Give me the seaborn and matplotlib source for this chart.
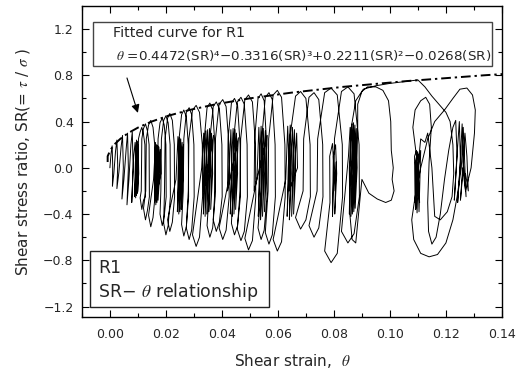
import pandas as pd
import matplotlib
matplotlib.use("Agg")
import matplotlib.pyplot as plt
from matplotlib.patches import Rectangle
import seaborn as sns

# ---- values: shear strain (theta) and stress ratio (SR) ----
# initial narrow spikes
strain_a = [0.0000, 0.0004, 0.0008, 0.0010, 0.0009, 0.0014, 0.0020, 0.0025, 0.0028, 0.0025,
            0.0032, 0.0040, 0.0045, 0.0048, 0.0043, 0.0050, 0.0058, 0.0063, 0.0066, 0.0061,
            0.0068, 0.0075, 0.0080, 0.0083, 0.0078]
sr_a = [0.00, 0.12, 0.19, 0.02, -0.16, -0.05, 0.14, 0.24, 0.02, -0.18,
        -0.04, 0.18, 0.28, 0.00, -0.27, -0.10, 0.16, 0.30, 0.00, -0.32,
        -0.10, 0.20, 0.31, 0.00, -0.30]
# dense cluster near 0.009
strain_b = [0.0085, 0.0090, 0.0093, 0.0088, 0.0091, 0.0095, 0.0098, 0.0092, 0.0094, 0.0098,
            0.0100, 0.0095, 0.0097, 0.0101, 0.0103, 0.0098]
sr_b = [0.10, 0.22, 0.00, -0.25, 0.05, 0.24, 0.00, -0.26, 0.05, 0.23,
        -0.02, -0.24, 0.06, 0.20, -0.05, -0.22]
# large cycles 0.010 - 0.016
strain_c = [0.0100, 0.0102, 0.0108, 0.0114, 0.0120, 0.0125, 0.0126, 0.0120, 0.0114, 0.0108,
            0.0112, 0.0114, 0.0120, 0.0127, 0.0134, 0.0140, 0.0141, 0.0134, 0.0127, 0.0120,
            0.0128, 0.0130, 0.0138, 0.0146, 0.0154, 0.0160, 0.0161, 0.0154, 0.0146, 0.0138]
sr_c = [-0.20, 0.25, 0.31, 0.35, 0.29, 0.20, -0.25, -0.28, -0.36, -0.26,
        -0.20, 0.25, 0.34, 0.38, 0.32, 0.20, -0.25, -0.37, -0.45, -0.35,
        -0.20, 0.25, 0.37, 0.41, 0.35, 0.20, -0.25, -0.43, -0.51, -0.41]
# dense cluster near 0.017
strain_d = [0.0156, 0.0163, 0.0166, 0.0160, 0.0162, 0.0167, 0.0170, 0.0164, 0.0166, 0.0171,
            0.0174, 0.0168, 0.0170, 0.0175, 0.0178, 0.0172, 0.0175, 0.0180, 0.0182]
sr_d = [-0.10, 0.22, -0.05, -0.30, 0.00, 0.20, -0.05, -0.32, 0.02, 0.19,
        -0.08, -0.30, 0.00, 0.18, -0.05, -0.28, 0.02, 0.16, -0.05]
# large cycles 0.017 - 0.023
strain_e = [0.0170, 0.0172, 0.0179, 0.0187, 0.0194, 0.0200, 0.0201, 0.0194, 0.0187, 0.0179,
            0.0182, 0.0184, 0.0192, 0.0200, 0.0208, 0.0215, 0.0216, 0.0208, 0.0200, 0.0192,
            0.0195, 0.0197, 0.0206, 0.0214, 0.0223, 0.0230, 0.0231, 0.0223, 0.0214, 0.0206]
sr_e = [-0.20, 0.25, 0.39, 0.43, 0.37, 0.20, -0.25, -0.42, -0.50, -0.40,
        -0.20, 0.25, 0.41, 0.45, 0.39, 0.20, -0.25, -0.50, -0.58, -0.48,
        -0.20, 0.25, 0.43, 0.47, 0.41, 0.20, -0.25, -0.47, -0.55, -0.45]
# dense cluster near 0.025
strain_f = [0.0236, 0.0243, 0.0247, 0.0241, 0.0244, 0.0249, 0.0252, 0.0246, 0.0248, 0.0253,
            0.0256, 0.0250, 0.0253, 0.0258, 0.0261, 0.0255, 0.0258, 0.0263]
sr_f = [-0.10, 0.27, -0.05, -0.38, 0.00, 0.26, -0.05, -0.40, 0.02, 0.25,
        -0.08, -0.38, 0.00, 0.22, -0.05, -0.36, 0.00, 0.20]
# large cycles 0.024 - 0.033
strain_g = [0.0245, 0.0247, 0.0256, 0.0264, 0.0273, 0.0280, 0.0281, 0.0273, 0.0264, 0.0256,
            0.0262, 0.0264, 0.0273, 0.0283, 0.0292, 0.0300, 0.0301, 0.0292, 0.0283, 0.0273,
            0.0280, 0.0282, 0.0295, 0.0308, 0.0320, 0.0330, 0.0331, 0.0320, 0.0308, 0.0295]
sr_g = [-0.20, 0.25, 0.46, 0.50, 0.44, 0.20, -0.25, -0.51, -0.59, -0.49,
        -0.20, 0.25, 0.48, 0.52, 0.46, 0.20, -0.25, -0.54, -0.62, -0.52,
        -0.20, 0.25, 0.50, 0.54, 0.48, 0.20, -0.25, -0.60, -0.68, -0.58]
# dense cluster near 0.035
strain_h = [0.0328, 0.0335, 0.0340, 0.0334, 0.0337, 0.0343, 0.0347, 0.0340, 0.0343, 0.0349,
            0.0353, 0.0346, 0.0350, 0.0356, 0.0360, 0.0353, 0.0357, 0.0363, 0.0367, 0.0360,
            0.0364, 0.0370]
sr_h = [0.00, 0.30, -0.02, -0.40, 0.00, 0.32, -0.05, -0.42, 0.00, 0.33,
        -0.05, -0.40, 0.02, 0.34, -0.02, -0.38, 0.02, 0.30, -0.05, -0.36,
        0.00, 0.28]
# large cycles 0.034 - 0.043
strain_i = [0.0335, 0.0337, 0.0347, 0.0357, 0.0367, 0.0375, 0.0376, 0.0367, 0.0357, 0.0347,
            0.0355, 0.0357, 0.0369, 0.0380, 0.0391, 0.0400, 0.0401, 0.0391, 0.0380, 0.0369,
            0.0375, 0.0377, 0.0390, 0.0403, 0.0415, 0.0425, 0.0426, 0.0415, 0.0403, 0.0390]
sr_i = [-0.20, 0.25, 0.52, 0.56, 0.50, 0.20, -0.25, -0.52, -0.60, -0.50,
        -0.20, 0.25, 0.53, 0.57, 0.51, 0.20, -0.25, -0.47, -0.55, -0.45,
        -0.20, 0.25, 0.55, 0.59, 0.53, 0.20, -0.25, -0.54, -0.62, -0.52]
# dense cluster near 0.044
strain_j = [0.0425, 0.0432, 0.0436, 0.0430, 0.0434, 0.0440, 0.0444, 0.0437, 0.0441, 0.0447,
            0.0450, 0.0443, 0.0447, 0.0452, 0.0456, 0.0449, 0.0453, 0.0459]
sr_j = [-0.10, 0.33, -0.02, -0.40, 0.00, 0.34, -0.05, -0.42, 0.00, 0.33,
        -0.05, -0.40, 0.02, 0.30, -0.05, -0.36, 0.00, 0.26]
# large cycles 0.042 - 0.052
strain_k = [0.0420, 0.0422, 0.0434, 0.0445, 0.0456, 0.0465, 0.0466, 0.0456, 0.0445, 0.0434,
            0.0440, 0.0442, 0.0455, 0.0468, 0.0480, 0.0490, 0.0491, 0.0480, 0.0468, 0.0455,
            0.0465, 0.0467, 0.0482, 0.0495, 0.0509, 0.0520, 0.0521, 0.0509, 0.0495, 0.0482]
sr_k = [-0.20, 0.25, 0.56, 0.60, 0.54, 0.20, -0.25, -0.50, -0.58, -0.48,
        -0.20, 0.25, 0.57, 0.61, 0.55, 0.20, -0.25, -0.55, -0.63, -0.53,
        -0.20, 0.25, 0.59, 0.63, 0.57, 0.20, -0.25, -0.63, -0.71, -0.61]
# dense cluster near 0.054
strain_l = [0.0525, 0.0532, 0.0537, 0.0530, 0.0534, 0.0540, 0.0545, 0.0538, 0.0542, 0.0548,
            0.0552, 0.0545, 0.0549, 0.0555, 0.0559, 0.0552, 0.0556, 0.0562]
sr_l = [-0.10, 0.35, 0.00, -0.42, 0.00, 0.36, -0.05, -0.45, 0.00, 0.34,
        -0.05, -0.42, 0.02, 0.32, -0.05, -0.38, 0.00, 0.28]
# large cycles 0.051 - 0.063
strain_m = [0.0515, 0.0517, 0.0529, 0.0540, 0.0551, 0.0560, 0.0561, 0.0551, 0.0540, 0.0529,
            0.0540, 0.0542, 0.0555, 0.0568, 0.0580, 0.0590, 0.0591, 0.0580, 0.0568, 0.0555,
            0.0565, 0.0567, 0.0583, 0.0598, 0.0613, 0.0625, 0.0626, 0.0613, 0.0598, 0.0583]
sr_m = [-0.20, 0.25, 0.60, 0.64, 0.58, 0.20, -0.25, -0.54, -0.62, -0.52,
        -0.20, 0.25, 0.61, 0.65, 0.59, 0.20, -0.25, -0.58, -0.66, -0.56,
        -0.20, 0.25, 0.63, 0.67, 0.61, 0.20, -0.25, -0.64, -0.72, -0.62]
# dense cluster near 0.065
strain_n = [0.0628, 0.0635, 0.0640, 0.0633, 0.0637, 0.0644, 0.0648, 0.0641, 0.0645, 0.0652,
            0.0656, 0.0649, 0.0653, 0.0659, 0.0663, 0.0656, 0.0660, 0.0667, 0.0670]
sr_n = [-0.10, 0.36, 0.00, -0.42, 0.00, 0.37, -0.05, -0.45, 0.00, 0.35,
        -0.05, -0.42, 0.02, 0.33, -0.05, -0.40, 0.00, 0.30, 0.00]
# large cycles 0.064 - 0.089 with the small cluster near 0.080
strain_o = [0.0640, 0.0642, 0.0663, 0.0681, 0.0700, 0.0715, 0.0716, 0.0700, 0.0681, 0.0663,
            0.0690, 0.0692, 0.0711, 0.0729, 0.0746, 0.0760, 0.0761, 0.0746, 0.0729, 0.0711,
            0.0740, 0.0742, 0.0767, 0.0790, 0.0812, 0.0830, 0.0831, 0.0812, 0.0790, 0.0767,
            0.0786, 0.0785, 0.0795, 0.0800, 0.0795, 0.0798, 0.0806, 0.0810, 0.0803, 0.0808,
            0.0800, 0.0802, 0.0827, 0.0850, 0.0872, 0.0890, 0.0891, 0.0872, 0.0850, 0.0827]
sr_o = [-0.20, 0.25, 0.62, 0.66, 0.60, 0.20, -0.25, -0.45, -0.53, -0.43,
        -0.20, 0.25, 0.61, 0.65, 0.59, 0.20, -0.25, -0.52, -0.60, -0.50,
        -0.20, 0.25, 0.65, 0.69, 0.63, 0.20, -0.25, -0.74, -0.82, -0.72,
        -0.30, 0.10, 0.21, 0.00, -0.42, 0.10, 0.20, -0.05, -0.40, 0.05,
        -0.20, 0.25, 0.66, 0.70, 0.64, 0.20, -0.25, -0.57, -0.65, -0.55]
# dense cluster near 0.087
strain_p = [0.0852, 0.0858, 0.0862, 0.0855, 0.0858, 0.0865, 0.0869, 0.0861, 0.0864, 0.0870,
            0.0874, 0.0866, 0.0869, 0.0875, 0.0879, 0.0871, 0.0874, 0.0880, 0.0883, 0.0876,
            0.0879, 0.0885]
sr_p = [0.10, 0.35, 0.00, -0.40, 0.00, 0.38, -0.05, -0.42, 0.00, 0.39,
        -0.05, -0.40, 0.02, 0.37, -0.05, -0.38, 0.00, 0.34, 0.00, -0.35,
        0.00, 0.30]
# wide loop 0.085 - 0.102 and run up to the envelope at 0.110
strain_q = [0.0885, 0.0900, 0.0920, 0.0950, 0.0975, 0.0995, 0.1003, 0.1005, 0.1012, 0.1008,
            0.1015, 0.1005, 0.0985, 0.0955, 0.0925, 0.0900, 0.0888, 0.0878, 0.0865, 0.0857,
            0.0855, 0.0862, 0.0878, 0.0905, 0.0950, 0.1000, 0.1050, 0.1100]
sr_q = [0.55, 0.66, 0.70, 0.70, 0.67, 0.58, 0.40, 0.15, 0.00, -0.10,
        -0.20, -0.28, -0.30, -0.27, -0.22, -0.10, -0.40, -0.65, -0.62, -0.40,
        0.00, 0.35, 0.58, 0.68, 0.71, 0.73, 0.745, 0.76]
# loops 0.108 - 0.131 with the left cluster near 0.110
strain_r = [0.1125, 0.1150, 0.1175, 0.1200, 0.1215, 0.1225, 0.1228, 0.1222, 0.1205, 0.1180,
            0.1160, 0.1150, 0.1135, 0.1125, 0.1110, 0.1100, 0.1104, 0.1110, 0.1098, 0.1092,
            0.1096, 0.1090, 0.1088, 0.1095, 0.1093, 0.1100, 0.1104, 0.1097, 0.1091, 0.1099,
            0.1106, 0.1100, 0.1095, 0.1082, 0.1090, 0.1110, 0.1128, 0.1142, 0.1148, 0.1140,
            0.1135, 0.1138, 0.1150, 0.1165, 0.1180, 0.1195, 0.1210, 0.1225]
sr_r = [0.70, 0.62, 0.55, 0.48, 0.40, 0.20, -0.05, -0.25, -0.38, -0.45,
        -0.42, 0.00, 0.30, 0.22, 0.25, 0.00, -0.38, 0.15, -0.05, -0.36,
        0.12, -0.30, 0.10, 0.15, -0.32, -0.10, 0.12, -0.39, 0.05, 0.14,
        -0.30, -0.10, 0.10, 0.35, 0.50, 0.58, 0.61, 0.55, 0.35, 0.05,
        -0.30, -0.55, -0.66, -0.60, -0.40, -0.10, 0.15, 0.35]
# right cluster near 0.125 and the outer loop around it
strain_s = [0.1235, 0.1240, 0.1230, 0.1238, 0.1248, 0.1252, 0.1242, 0.1250, 0.1258, 0.1262,
            0.1252, 0.1260, 0.1270, 0.1290, 0.1302, 0.1305, 0.1295, 0.1275, 0.1250, 0.1225,
            0.1195, 0.1160, 0.1135, 0.1110, 0.1090, 0.1078, 0.1085, 0.1110, 0.1140, 0.1170,
            0.1200, 0.1225, 0.1240, 0.1255, 0.1262, 0.1268, 0.1272, 0.1262, 0.1268, 0.1275,
            0.1280, 0.1270]
sr_s = [0.41, 0.10, -0.28, 0.05, 0.40, 0.05, -0.30, 0.00, 0.38, 0.00,
        -0.28, 0.00, -0.20, 0.00, 0.30, 0.50, 0.63, 0.69, 0.68, 0.60,
        0.50, 0.40, 0.25, 0.00, -0.25, -0.45, -0.62, -0.74, -0.77, -0.75,
        -0.65, -0.45, -0.25, 0.00, 0.35, 0.00, -0.25, 0.05, 0.30, 0.10,
        -0.20, -0.05]

# points on the fitted dash-dot envelope
fit_sr = [0.05, 0.10, 0.15, 0.20, 0.25, 0.30, 0.35, 0.40, 0.45, 0.50,
          0.55, 0.60, 0.65, 0.70, 0.75, 0.80, 0.82]
fit_strain = [-0.0008, -0.0008, 0.0001, 0.0015, 0.0037, 0.0065, 0.0102, 0.0149, 0.0208, 0.0284,
              0.0379, 0.0498, 0.0648, 0.0832, 0.1059, 0.1335, 0.1460]

strain_parts = [strain_a, strain_b, strain_c, strain_d, strain_e, strain_f, strain_g, strain_h,
                strain_i, strain_j, strain_k, strain_l, strain_m, strain_n, strain_o, strain_p,
                strain_q, strain_r, strain_s]
sr_parts = [sr_a, sr_b, sr_c, sr_d, sr_e, sr_f, sr_g, sr_h, sr_i, sr_j, sr_k, sr_l,
            sr_m, sr_n, sr_o, sr_p, sr_q, sr_r, sr_s]

trace = pd.DataFrame({
    "strain": [v for part in strain_parts for v in part],
    "sr": [v for part in sr_parts for v in part],
})
fit = pd.DataFrame({"strain": fit_strain, "sr": fit_sr})

# ---- style ----
sns.set_style("ticks")
plt.rcParams["font.family"] = ["DejaVu Sans"]
plt.rcParams["mathtext.fontset"] = "stix"

fig = plt.figure(figsize=(5.25, 3.72), dpi=100)
ax = fig.add_axes([0.156, 0.148, 0.800, 0.836])

sns.lineplot(data=trace, x="strain", y="sr", sort=False, estimator=None,
             color="black", lw=0.7, ax=ax)
sns.lineplot(data=fit, x="strain", y="sr", sort=False, estimator=None,
             color="black", lw=1.4, linestyle=(0, (5, 2, 1.2, 2)), ax=ax)

ax.set_xlim(-0.01, 0.14)
ax.set_ylim(-1.29, 1.40)
ax.set_xticks([0.00, 0.02, 0.04, 0.06, 0.08, 0.10, 0.12, 0.14])
ax.set_xticks([-0.01, 0.01, 0.03, 0.05, 0.07, 0.09, 0.11, 0.13], minor=True)
ax.set_yticks([-1.2, -0.8, -0.4, 0.0, 0.4, 0.8, 1.2])
ax.set_yticks([-1.0, -0.6, -0.2, 0.2, 0.6, 1.0], minor=True)
ax.set_xticklabels([f"{v:.2f}" for v in ax.get_xticks()])
ax.set_yticklabels([f"{v:.1f}".replace("-", "\u2212") for v in ax.get_yticks()])
ax.tick_params(which="both", direction="in", top=True, right=True, labelsize=9,
               width=0.8, color="black")
ax.tick_params(which="major", length=5)
ax.tick_params(which="minor", length=3)
ax.tick_params(axis="x", pad=8)
ax.tick_params(axis="y", pad=6)
for s in ax.spines.values():
    s.set_linewidth(1.0)
    s.set_color("black")

ax.set_xlabel(r"Shear strain,  $\mathit{\theta}$", fontsize=11, labelpad=8)
ax.set_ylabel(r"Shear stress ratio, SR(= $\tau$ / $\sigma$ )", fontsize=11, labelpad=8)

# annotation boxes
ax.add_patch(Rectangle((0.026, 0.807), 0.950, 0.142, transform=ax.transAxes,
                       facecolor="white", edgecolor="#444444", lw=1.0, zorder=3))
ax.text(0.074, 0.913, "Fitted curve for R1", transform=ax.transAxes,
        fontsize=10.3, va="center", ha="left", zorder=4)
ax.text(0.081, 0.842,
        "$\\theta$ =0.4472(SR)\u2074\u22120.3316(SR)\u00b3+0.2211(SR)\u00b2\u22120.0268(SR)",
        transform=ax.transAxes, fontsize=9.7, va="center", ha="left", zorder=4)

ax.add_patch(Rectangle((0.019, 0.032), 0.426, 0.180, transform=ax.transAxes,
                       facecolor="white", edgecolor="#222222", lw=1.0, zorder=3))
ax.text(0.038, 0.158, "R1", transform=ax.transAxes, fontsize=12.5,
        va="center", ha="left", zorder=4)
ax.text(0.038, 0.080, "SR\u2212 $\\theta$ relationship", transform=ax.transAxes,
        fontsize=12.5, va="center", ha="left", zorder=4)

ax.annotate("", xy=(0.0100, 0.475), xytext=(0.0061, 0.777),
            arrowprops=dict(arrowstyle="-|>", color="black", lw=0.8,
                            mutation_scale=12, shrinkA=0, shrinkB=0))

fig.savefig("out.png", dpi=100)
